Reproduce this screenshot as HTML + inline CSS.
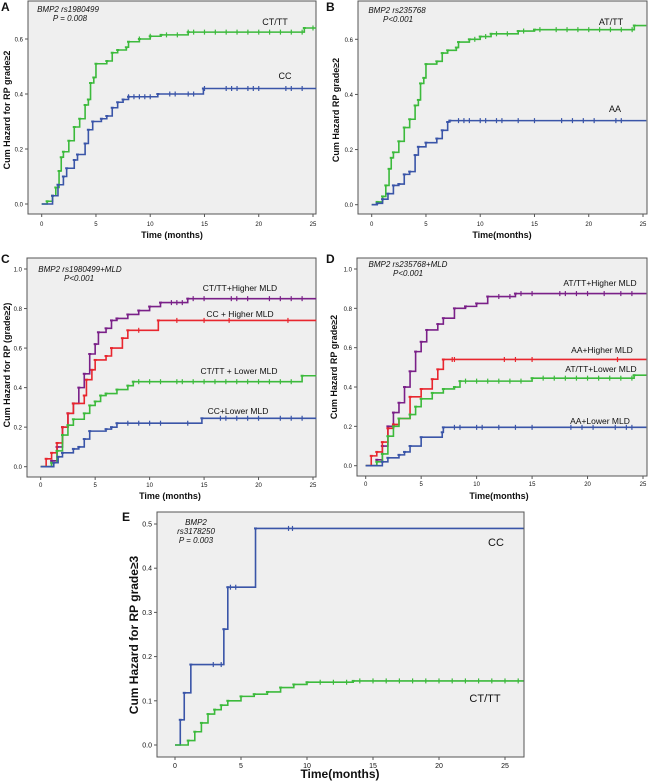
<!DOCTYPE html>
<html><head><meta charset="utf-8"><style>
html,body{margin:0;padding:0;background:#fff;}
svg{display:block;font-family:"Liberation Sans",sans-serif;}
</style></head><body>
<svg id="fig" width="650" height="784" viewBox="0 0 650 784"></svg>
<script>
// ---- Data (time in months, cumulative hazard) ----
const A_ct_t=[0,0.5,1,1.3,1.6,1.8,2,2.5,3,3.5,4,4.3,4.5,4.8,5,6,6.5,7,7.8,8,9,10,11,13.5,24.2];
const A_ct_v=[0,0.01,0.03,0.06,0.12,0.17,0.19,0.23,0.28,0.31,0.36,0.38,0.44,0.46,0.51,0.52,0.55,0.56,0.57,0.59,0.60,0.61,0.615,0.625,0.64];
const A_ct_c=[9,10,11.5,12.5,13.5,14,15,16,17,18,19,20,21,22,23,24,25];
const A_cc_t=[0,1,1.5,2,2.3,3,3.3,4,4.3,4.7,5.5,6,6.5,7,7.5,8,10.7,14.9];
const A_cc_v=[0,0.03,0.07,0.1,0.13,0.16,0.18,0.22,0.27,0.3,0.31,0.32,0.35,0.37,0.38,0.39,0.4,0.42];
const A_cc_c=[8,8.5,9,9.5,10,11.8,12.3,13.5,14,15,17,17.5,18,19,19.5,20,22.5,23,24];
const B_at_t=[0,0.5,1,1.3,1.6,1.8,2,2.5,3,3.5,4,4.3,4.5,4.8,5,6,6.5,7,7.8,8,9,10,11,13.5,15,24.2];
const B_at_v=[0,0.01,0.03,0.07,0.13,0.17,0.19,0.23,0.28,0.31,0.36,0.38,0.44,0.46,0.51,0.52,0.55,0.56,0.57,0.59,0.60,0.61,0.62,0.63,0.635,0.65];
const B_at_c=[9.5,10.5,11.5,12.5,14,15.5,17,18,19,20,21,22,23,24];
const B_aa_t=[0,0.5,1,1.5,2,2.5,3,3.5,4,4.3,5,6,6.5,7,7.2];
const B_aa_v=[0,0.005,0.02,0.04,0.07,0.075,0.11,0.12,0.18,0.21,0.225,0.24,0.27,0.3,0.305];
const B_aa_c=[8,8.5,9,10,10.5,11.5,12,13.5,15,17.5,18.5,19.5,20.5,22.5,23];
const C_pu_t=[0,1,1.5,2,2.5,3,3.5,4,4.5,5,5.3,6,6.5,7,8,9,10,11,13.5];
const C_pu_v=[0,0.03,0.1,0.2,0.27,0.32,0.4,0.47,0.57,0.62,0.68,0.7,0.74,0.75,0.77,0.79,0.81,0.83,0.85];
const C_pu_c=[12,12.5,13,14,15,17.5,18,19,21,22,23,24];
const C_re_t=[0,0.5,1,1.5,2,2.5,3,4,4.2,4.7,5,6,6.5,7.5,8,10.8];
const C_re_v=[0,0.04,0.07,0.12,0.2,0.27,0.32,0.36,0.44,0.49,0.54,0.56,0.6,0.65,0.69,0.74];
const C_re_c=[9,12.5,15,17.3,22.7];
const C_gr_t=[0,1,1.5,2,2.5,3,4,4.5,5,5.5,6,7,8,8.5,24];
const C_gr_v=[0,0.02,0.08,0.16,0.21,0.24,0.27,0.31,0.33,0.36,0.37,0.39,0.41,0.43,0.46];
const C_gr_c=[9,10,11,12.5,13,14,15,16,17,18,19,20,21,22,23];
const C_bl_t=[0,1.2,1.6,2,3,3.5,4,4.5,6,6.5,7,14.8];
const C_bl_v=[0,0.02,0.05,0.07,0.09,0.1,0.14,0.18,0.19,0.2,0.22,0.245];
const C_bl_c=[8,9,10,11,13.5,16.5,17,18,19,20,22,23,24];
const D_pu_t=[0,1,1.5,2,2.5,3,3.5,4,4.5,5,5.5,6.5,7,8,9,10,11,13.5];
const D_pu_v=[0,0.03,0.1,0.2,0.27,0.32,0.4,0.48,0.58,0.63,0.69,0.72,0.75,0.8,0.81,0.825,0.86,0.875];
const D_pu_c=[12,13,14,15,17.5,18,19,20,21.5,23,24];
const D_re_t=[0,0.5,1,1.5,2,2.5,3,4,5,6,6.5,7];
const D_re_v=[0,0.05,0.07,0.12,0.19,0.21,0.24,0.35,0.39,0.44,0.49,0.54];
const D_re_c=[7.8,8,12.5,13.5,15,22.7];
const D_gr_t=[0,1,1.5,2,2.5,3,4,4.5,5,6,7,8,8.5,15,24.2];
const D_gr_v=[0,0.02,0.06,0.15,0.2,0.24,0.26,0.3,0.34,0.37,0.39,0.4,0.43,0.445,0.46];
const D_gr_c=[9,10,11,12,13,14,16,17,18,19,20,21,22,23,24];
const D_bl_t=[0,1.5,2,3,3.5,4,5,6.9,7];
const D_bl_v=[0,0.02,0.04,0.055,0.07,0.1,0.145,0.17,0.195];
const D_bl_c=[8,8.5,10,10.5,12,13.5,15,18.5,19.5,20.5,22.5,23.5,24];
const E_cc_t=[0,0.4,0.7,1.2,3.7,4.0,6.1];
const E_cc_v=[0,0.057,0.118,0.182,0.262,0.357,0.49];
const E_cc_c=[2.9,3.5,4.2,4.6,8.6,8.9];
const E_ct_t=[0,1,1.5,2,2.5,3,3.5,4,5,6,7,8,9,10,13.5];
const E_ct_v=[0,0.01,0.03,0.05,0.07,0.08,0.09,0.1,0.11,0.115,0.12,0.13,0.137,0.142,0.145];
const E_ct_c=[11,12,13,14,15,16,17,18,19,20,21,22,23,24,25,26];
const xTicks=[0,5,10,15,20,25];
const yTicksAB=[0,0.2,0.4,0.6];
const yTicksCD=[0,0.2,0.4,0.6,0.8,1.0];
const yTicksE=[0,0.1,0.2,0.3,0.4,0.5];

const NS="http://www.w3.org/2000/svg";
const svg=document.getElementById('fig');
function el(tag,attrs,parent){const e=document.createElementNS(NS,tag);for(const k in attrs)e.setAttribute(k,attrs[k]);(parent||svg).appendChild(e);return e;}
function txt(s,x,y,size,opts,parent){const e=el('text',Object.assign({x:x,y:y,'font-size':size,fill:'#111'},opts||{}),parent);e.textContent=s;return e;}

function panel(name,P){
  const g=el('g',{});
  
  
  const xs=t=>P.x0+(P.x25-P.x0)*t/25;
  const ys=v=>P.y0-(P.y0-P.y1)*v/P.v1;
  const bg=el('rect',{x:P.l,y:P.t,width:P.r-P.l,height:P.b-P.t,fill:'#efefef',stroke:'#555','stroke-width':1},g);
  
  
  xTicks.forEach(t=>{
    el('line',{x1:xs(t),x2:xs(t),y1:P.b,y2:P.b+3,stroke:'#555'},g);
    const lb=txt(String(t),xs(t),P.b+P.lo,P.fs,{'text-anchor':'middle'},g);
    
    
  });
  P.yt.forEach(v=>{
    el('line',{x1:P.l-3,x2:P.l,y1:ys(v),y2:ys(v),stroke:'#555'},g);
    const lb=txt(v.toFixed(1),P.l-5,ys(v)+2.5,P.fs,{'text-anchor':'end'},g);
    
    
  });
  P.series.forEach(s=>{
    let d='M'+xs(s.t[0])+','+ys(s.v[0]);
    for(let i=1;i<s.t.length;i++){d+='H'+xs(s.t[i])+'V'+ys(s.v[i]);}
    d+='H'+xs(P.xmax);
    const p=el('path',{d:d,fill:'none',stroke:s.c,'stroke-width':1.6},g);
    
    
    const stepVal=t=>{let v=s.v[0];for(let i=0;i<s.t.length;i++){if(s.t[i]<=t)v=s.v[i];}return v;};
    s.cz.forEach(t=>{
      const m=el('line',{x1:xs(t),x2:xs(t),y1:ys(stepVal(t))-2.5,y2:ys(stepVal(t))+2.5,stroke:s.c,'stroke-width':1.2},g);
      
      
    });
    for(let i=1;i<s.t.length;i++){
      const m=el('line',{x1:xs(s.t[i])-1.5,x2:xs(s.t[i])+1.5,y1:ys(s.v[i]),y2:ys(s.v[i]),stroke:s.c,'stroke-width':2},g);
      
      
    }
    const lb=txt(s.label,s.lx,s.ly,s.lfs,{'text-anchor':'middle'},g);
    
    
  });
  const xt=txt(P.xtitle,P.xtx,P.xty,P.tfs,{'text-anchor':'middle','font-weight':'bold'},g);
  
  
  const yt=txt(P.ytitle,0,0,P.tfs,{'text-anchor':'middle','font-weight':'bold',transform:'translate('+P.ytx+','+P.yty+') rotate(-90)'},g);
  
  
  const pl=txt(P.letter,P.lx,P.ly,12,{'font-weight':'bold'},g);
  
  
  P.ann.forEach(a=>{
    const at=txt(a[0],a[1],a[2],P.afs,{'font-style':'italic','text-anchor':'middle'},g);
    
    
  });
}
const G='#3cba3c',B='#3a55a8',PU='#7a2088',R='#e8262e';
panel('panel-a',{l:28,t:1,r:316,b:214,x0:41.7,x25:313,y0:204,y1:39,v1:0.6,yt:yTicksAB,xmax:25.3,fs:6,lo:12,tfs:9,afs:8,
  xtitle:'Time (months)',xtx:172,xty:238,ytitle:'Cum Hazard for RP grade≥2',ytx:10,yty:110,letter:'A',lx:1,ly:11,
  ann:[['BMP2 rs1980499',68,12],['P = 0.008',70,21]],
  series:[{n:'ct-tt',t:A_ct_t,v:A_ct_v,cz:A_ct_c,c:G,label:'CT/TT',lx:275,ly:25,lfs:9},
          {n:'cc',t:A_cc_t,v:A_cc_v,cz:A_cc_c,c:B,label:'CC',lx:285,ly:79,lfs:9}]});
panel('panel-b',{l:358,t:1,r:647,b:214,x0:371.7,x25:643,y0:204.7,y1:39.3,v1:0.6,yt:yTicksAB,xmax:25.3,fs:6,lo:12,tfs:9,afs:8,
  xtitle:'Time(months)',xtx:502,xty:238,ytitle:'Cum Hazard RP grade≥2',ytx:339,yty:110,letter:'B',lx:326,ly:11,
  ann:[['BMP2 rs235768',397,13],['P<0.001',398,22]],
  series:[{n:'at-tt',t:B_at_t,v:B_at_v,cz:B_at_c,c:G,label:'AT/TT',lx:611,ly:25,lfs:9},
          {n:'aa',t:B_aa_t,v:B_aa_v,cz:B_aa_c,c:B,label:'AA',lx:615,ly:112,lfs:9}]});
panel('panel-c',{l:27,t:258,r:316,b:477,x0:40.7,x25:313,y0:466.7,y1:269,v1:1.0,yt:yTicksCD,xmax:25.3,fs:6,lo:10,tfs:9,afs:8,
  xtitle:'Time (months)',xtx:170,xty:499,ytitle:'Cum Hazard for RP (grade≥2)',ytx:10,yty:365,letter:'C',lx:1,ly:263,
  ann:[['BMP2 rs1980499+MLD',80,272],['P<0.001',79,281]],
  series:[{n:'ct-tt-higher-mld',t:C_pu_t,v:C_pu_v,cz:C_pu_c,c:PU,label:'CT/TT+Higher MLD',lx:240,ly:291,lfs:8.5},
          {n:'cc-higher-mld',t:C_re_t,v:C_re_v,cz:C_re_c,c:R,label:'CC + Higher MLD',lx:240,ly:317,lfs:8.5},
          {n:'ct-tt-lower-mld',t:C_gr_t,v:C_gr_v,cz:C_gr_c,c:G,label:'CT/TT + Lower MLD',lx:239,ly:374,lfs:8.5},
          {n:'cc-lower-mld',t:C_bl_t,v:C_bl_v,cz:C_bl_c,c:B,label:'CC+Lower MLD',lx:238,ly:414,lfs:8.5}]});
panel('panel-d',{l:357,t:258,r:647,b:476,x0:365.7,x25:643,y0:465.7,y1:269,v1:1.0,yt:yTicksCD,xmax:25.3,fs:6,lo:10,tfs:9,afs:8,
  xtitle:'Time(months)',xtx:499,xty:499,ytitle:'Cum Hazard RP grade≥2',ytx:337,yty:367,letter:'D',lx:326,ly:263,
  ann:[['BMP2 rs235768+MLD',408,267],['P<0.001',408,276]],
  series:[{n:'at-tt-higher-mld',t:D_pu_t,v:D_pu_v,cz:D_pu_c,c:PU,label:'AT/TT+Higher MLD',lx:600,ly:286,lfs:8.5},
          {n:'aa-higher-mld',t:D_re_t,v:D_re_v,cz:D_re_c,c:R,label:'AA+Higher MLD',lx:602,ly:353,lfs:8.5},
          {n:'at-tt-lower-mld',t:D_gr_t,v:D_gr_v,cz:D_gr_c,c:G,label:'AT/TT+Lower MLD',lx:601,ly:372,lfs:8.5},
          {n:'aa-lower-mld',t:D_bl_t,v:D_bl_v,cz:D_bl_c,c:B,label:'AA+Lower MLD',lx:600,ly:424,lfs:8.5}]});
panel('panel-e',{l:157,t:512,r:524,b:757,x0:175,x25:505,y0:745,y1:524,v1:0.5,yt:yTicksE,xmax:26.4,fs:7,lo:11,tfs:12,afs:8,
  xtitle:'Time(months)',xtx:340,xty:778,ytitle:'Cum Hazard for RP  grade≥3',ytx:138,yty:635,letter:'E',lx:122,ly:521,
  ann:[['BMP2',196,525],['rs3178250',196,534],['P = 0.003',196,543]],
  series:[{n:'cc',t:E_cc_t,v:E_cc_v,cz:E_cc_c,c:B,label:'CC',lx:496,ly:546,lfs:11},
          {n:'ct-tt',t:E_ct_t,v:E_ct_v,cz:E_ct_c,c:G,label:'CT/TT',lx:485,ly:702,lfs:11}]});
</script>
</body></html>
